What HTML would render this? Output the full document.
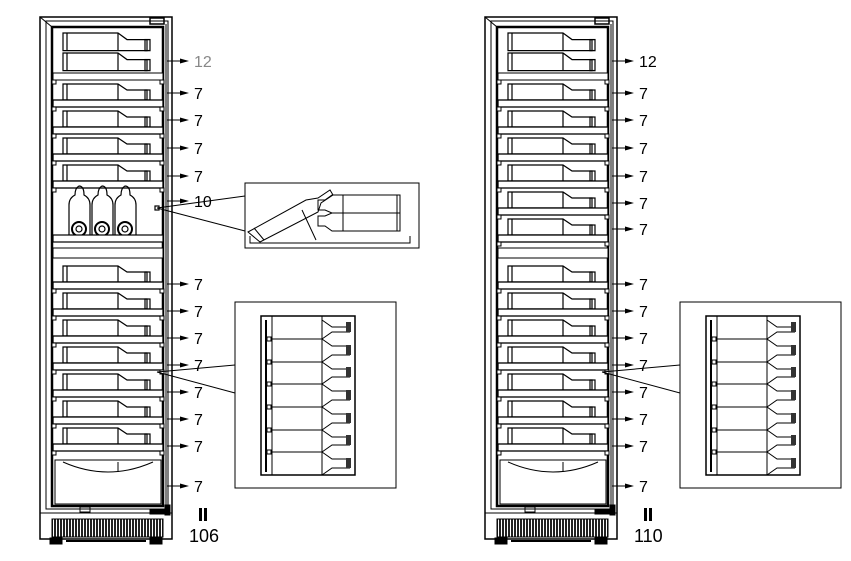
<!DOCTYPE html>
<html><head><meta charset="utf-8"><style>
html,body{margin:0;padding:0;background:#fff}
svg{display:block}
text{font-family:"Liberation Sans",sans-serif;font-size:16px;fill:#000}
</style></head><body>
<svg width="851" height="561" viewBox="0 0 851 561" xmlns="http://www.w3.org/2000/svg">
<defs>
<pattern id="gr" width="3" height="4" patternUnits="userSpaceOnUse"><rect width="3" height="4" fill="#fff"/><rect width="2" height="4" fill="#222"/></pattern>
<g id="bot" fill="none" stroke="#000" stroke-width="1.2">
  <path d="M10,0 H65 L74,6 H94 V16 H10 Z"/>
  <line x1="65" y1="0" x2="65" y2="16"/>
  <rect x="92" y="6" width="5" height="10"/>
  <line x1="14" y1="0" x2="14" y2="16"/>
</g>
<g id="row" stroke="#000" fill="none">
  <use href="#bot" transform="translate(0,4)"/>
  <rect x="0" y="20" width="110" height="7" fill="#fff" stroke-width="1.3"/>
  <rect x="-1" y="27" width="4" height="4" fill="#fff"/>
  <rect x="107" y="27" width="4" height="4" fill="#fff"/>
</g>
<g id="arr"><line x1="0" y1="0" x2="20" y2="0" stroke="#000"/><path d="M13,-2.5 L22,0 L13,2.5 Z" fill="#000"/></g>
<g id="shell" fill="none" stroke="#000">
  <rect x="40" y="17" width="132" height="522" stroke-width="1.5"/>
  <rect x="46" y="21" width="122" height="488"/>
  <rect x="52" y="27" width="111" height="479" stroke-width="2.5"/>
  <line x1="40" y1="17" x2="52" y2="27"/>
  <rect x="150" y="18" width="14" height="6" stroke-width="1.5"/>
  <line x1="166" y1="24" x2="166" y2="505"/>
  <rect x="165" y="505" width="5" height="10" fill="#000"/>
  <use href="#bot" transform="translate(53,33) scale(1,1.1)"/>
  <use href="#bot" transform="translate(53,53) scale(1,1.1)"/>
  <rect x="53" y="73" width="110" height="7" fill="#fff"/>
  <rect x="52" y="80" width="4" height="4" fill="#fff"/><rect x="160" y="80" width="4" height="4" fill="#fff"/>
  <rect x="53" y="248" width="110" height="10" fill="#fff"/>
  <use href="#row" transform="translate(53,262)"/>
  <use href="#row" transform="translate(53,289)"/>
  <use href="#row" transform="translate(53,316)"/>
  <use href="#row" transform="translate(53,343)"/>
  <use href="#row" transform="translate(53,370)"/>
  <use href="#row" transform="translate(53,397)"/>
  <use href="#row" transform="translate(53,424)"/>
  <path d="M63,462 Q108,482 153,462"/>
  <line x1="118" y1="462" x2="118" y2="472"/>
  <rect x="55" y="460" width="106" height="44"/>
  <line x1="40" y1="513" x2="172" y2="513"/>
  <rect x="52" y="519" width="111" height="18" fill="url(#gr)"/>
  <rect x="80" y="507" width="10" height="5"/>
  <rect x="50" y="538" width="12" height="6" fill="#000"/>
  <rect x="150" y="538" width="12" height="6" fill="#000"/>
  <line x1="66" y1="541" x2="146" y2="541" stroke-width="2"/>
  <rect x="150" y="510" width="18" height="4" fill="#000"/>
</g>
<g id="inset2">
<g stroke="#000" fill="none">
  <line x1="157" y1="372" x2="235" y2="365"/>
  <line x1="157" y1="372" x2="235" y2="393"/>
  <rect x="235" y="302" width="161" height="186"/>
  <rect x="261" y="316" width="94" height="159" stroke-width="1.5"/>
  <line x1="272" y1="316" x2="272" y2="475"/>
  <line x1="322" y1="316" x2="322" y2="475"/>
  <line x1="266" y1="320" x2="266" y2="472" stroke-width="2"/>
  <path d="M272,339 H322 M272,362 H322 M272,384 H322 M272,407 H322 M272,430 H322 M272,452 H322"/>
  <path d="M322,320 L332,327 H350 M322,339 L332,332 H350 M322,339 L332,346 H350 M322,362 L332,355 H350 M322,362 L332,369 H350 M322,384 L332,377 H350 M322,384 L332,391 H350 M322,407 L332,400 H350 M322,407 L332,414 H350 M322,430 L332,423 H350 M322,430 L332,437 H350 M322,452 L332,445 H350 M322,452 L332,459 H350 M322,475 L332,468 H350"/>
  <path d="M267,337 h4 v4 h-4 Z M267,360 h4 v4 h-4 Z M267,382 h4 v4 h-4 Z M267,405 h4 v4 h-4 Z M267,428 h4 v4 h-4 Z M267,450 h4 v4 h-4 Z"/>
</g>
<g fill="#333"><rect x="346" y="322" width="5" height="10"/><rect x="346" y="345" width="5" height="10"/><rect x="346" y="367" width="5" height="10"/><rect x="346" y="390" width="5" height="10"/><rect x="346" y="413" width="5" height="10"/><rect x="346" y="435" width="5" height="10"/><rect x="346" y="458" width="5" height="10"/></g>
</g>
</defs>

<!-- LEFT FRIDGE -->
<use href="#shell"/>
<use href="#row" transform="translate(53,80)"/>
<use href="#row" transform="translate(53,107)"/>
<use href="#row" transform="translate(53,134)"/>
<use href="#row" transform="translate(53,161)"/>
<g fill="none" stroke="#000" stroke-width="1.2">
  <path d="M69,235 V205 Q69,198 75,195 Q75,188 79,186 Q84,186 84,195 Q90,198 90,205 V235"/>
  <path d="M92,235 V205 Q92,198 98,195 Q98,188 102,186 Q107,186 107,195 Q113,198 113,205 V235"/>
  <path d="M115,235 V205 Q115,198 121,195 Q121,188 125,186 Q130,186 130,195 Q136,198 136,205 V235"/>
  <circle cx="79" cy="229" r="7" stroke-width="2"/><circle cx="102" cy="229" r="7" stroke-width="2"/><circle cx="125" cy="229" r="7" stroke-width="2"/>
  <circle cx="79" cy="229" r="3"/><circle cx="102" cy="229" r="3"/><circle cx="125" cy="229" r="3"/>
  <rect x="53" y="235" width="110" height="7" fill="#fff"/>
  <rect x="155" y="206" width="4" height="4"/>
</g>
<g fill="none" stroke="#000">
  <line x1="157" y1="208" x2="245" y2="196"/>
  <line x1="157" y1="208" x2="245" y2="231"/>
  <rect x="245" y="183" width="174" height="65"/>
  <path d="M248,232 L306,200 L318,198 L330,190 L333,195 L321,203 L318,212 L260,242 Z"/>
  <line x1="254" y1="228" x2="264" y2="240"/>
  <line x1="302" y1="210" x2="316" y2="240"/>
  <path d="M250,236 V243 H410 V236"/>
  <path d="M400,195 H332 L325,200 H318 V210 H325 L332,213 L325,216 H318 V226 H325 L332,231 H400 Z"/>
  <line x1="332" y1="213" x2="400" y2="213"/>
  <line x1="343" y1="195" x2="343" y2="231"/>
  <line x1="397" y1="195" x2="397" y2="231"/>
</g>
<use href="#inset2"/>

<use href="#arr" transform="translate(167,61)"/><text x="194" y="67" style="fill:#888">12</text>
<use href="#arr" transform="translate(167,93)"/><text x="194" y="99">7</text>
<use href="#arr" transform="translate(167,120)"/><text x="194" y="126">7</text>
<use href="#arr" transform="translate(167,148)"/><text x="194" y="154">7</text>
<use href="#arr" transform="translate(167,176)"/><text x="194" y="182">7</text>
<use href="#arr" transform="translate(167,201)"/><text x="194" y="207">10</text>
<use href="#arr" transform="translate(167,284)"/><text x="194" y="290">7</text>
<use href="#arr" transform="translate(167,311)"/><text x="194" y="317">7</text>
<use href="#arr" transform="translate(167,338)"/><text x="194" y="344">7</text>
<use href="#arr" transform="translate(167,365)"/><text x="194" y="371">7</text>
<use href="#arr" transform="translate(167,392)"/><text x="194" y="398">7</text>
<use href="#arr" transform="translate(167,419)"/><text x="194" y="425">7</text>
<use href="#arr" transform="translate(167,446)"/><text x="194" y="452">7</text>
<use href="#arr" transform="translate(167,486)"/><text x="194" y="492">7</text>
<rect x="199" y="508" width="3" height="13" fill="#000"/><rect x="204" y="508" width="3" height="13" fill="#000"/>
<text x="189" y="542" style="font-size:18px">106</text>

<!-- RIGHT FRIDGE -->
<g transform="translate(445,0)">
<use href="#shell"/>
<use href="#row" transform="translate(53,80)"/>
<use href="#row" transform="translate(53,107)"/>
<use href="#row" transform="translate(53,134)"/>
<use href="#row" transform="translate(53,161)"/>
<use href="#row" transform="translate(53,188)"/>
<use href="#row" transform="translate(53,215)"/>
<use href="#inset2"/>
<use href="#arr" transform="translate(167,61)"/><text x="194" y="67">12</text>
<use href="#arr" transform="translate(167,93)"/><text x="194" y="99">7</text>
<use href="#arr" transform="translate(167,120)"/><text x="194" y="126">7</text>
<use href="#arr" transform="translate(167,148)"/><text x="194" y="154">7</text>
<use href="#arr" transform="translate(167,176)"/><text x="194" y="182">7</text>
<use href="#arr" transform="translate(167,203)"/><text x="194" y="209">7</text>
<use href="#arr" transform="translate(167,229)"/><text x="194" y="235">7</text>
<use href="#arr" transform="translate(167,284)"/><text x="194" y="290">7</text>
<use href="#arr" transform="translate(167,311)"/><text x="194" y="317">7</text>
<use href="#arr" transform="translate(167,338)"/><text x="194" y="344">7</text>
<use href="#arr" transform="translate(167,365)"/><text x="194" y="371">7</text>
<use href="#arr" transform="translate(167,392)"/><text x="194" y="398">7</text>
<use href="#arr" transform="translate(167,419)"/><text x="194" y="425">7</text>
<use href="#arr" transform="translate(167,446)"/><text x="194" y="452">7</text>
<use href="#arr" transform="translate(167,486)"/><text x="194" y="492">7</text>
<rect x="199" y="508" width="3" height="13" fill="#000"/><rect x="204" y="508" width="3" height="13" fill="#000"/>
<text x="189" y="542" style="font-size:18px">110</text>
</g>
</svg>
</body></html>
